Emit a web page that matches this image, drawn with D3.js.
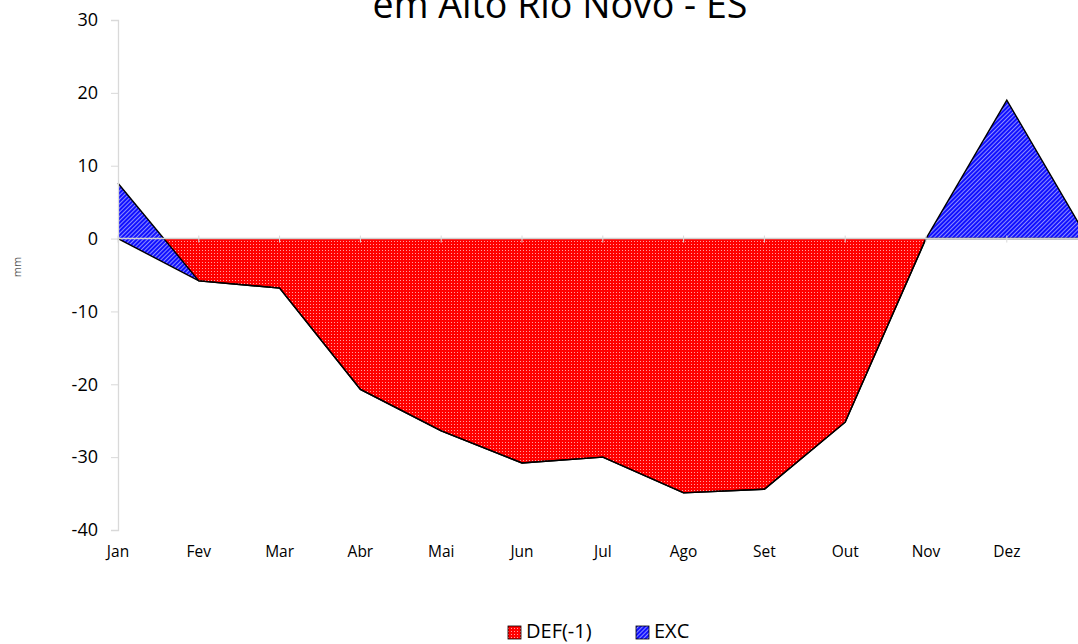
<!DOCTYPE html>
<html>
<head>
<meta charset="utf-8">
<script src="https://cdn.jsdelivr.net/npm/d3@7"></script>
<style>
  body { margin: 0; background: #fff; }
  svg { display: block; font-family: "Open Sans", sans-serif; }
</style>
</head>
<body>
<div class="content"></div>
<script>
// categorias (o último ponto é o início do ciclo seguinte, fora do quadro)
var months = ['Jan', 'Fev', 'Mar', 'Abr', 'Mai', 'Jun', 'Jul', 'Ago', 'Set', 'Out', 'Nov', 'Dez', ''];

// deficiência hídrica (x -1), mm
var def = [0, -5.8, -6.8, -20.7, -26.4, -30.8, -30.0, -34.9, -34.4, -25.2, 0, 0, 0];

// excedente hídrico, mm
var exc = [7.6, 0, 0, 0, 0, 0, 0, 0, 0, 0, 0, 19.0, 0];

var yTicks = [-40, -30, -20, -10, 0, 10, 20, 30];

var title = 'em Alto Rio Novo - ES';
var legendNames = ['DEF(-1)', 'EXC'];

// dimensões
var w = 1078,
    h = 644;

var svg = d3.select('.content').append('svg')
    .attr('width', w)
    .attr('height', h);

// padrões de preenchimento
var defs = svg.append('defs');

var pRed = defs.append('pattern')
    .attr('id', 'pat-def')
    .attr('patternUnits', 'userSpaceOnUse')
    .attr('width', 3).attr('height', 3);
pRed.append('rect').attr('width', 3).attr('height', 3).attr('fill', '#ff0000');
pRed.append('rect').attr('x', 1).attr('y', 1).attr('width', 1).attr('height', 1).attr('fill', '#ffa0a0');

var pBlue = defs.append('pattern')
    .attr('id', 'pat-exc')
    .attr('patternUnits', 'userSpaceOnUse')
    .attr('width', 3).attr('height', 3)
    .attr('patternTransform', 'rotate(45)');
pBlue.append('rect').attr('width', 3).attr('height', 3).attr('fill', '#1010ff');
pBlue.append('rect').attr('width', 1).attr('height', 3).attr('fill', '#8c8cff');

// escalas
var x = d3.scalePoint()
    .domain(d3.range(months.length))
    .range([118, 118 + 80.8 * (months.length - 1)]);

var y = d3.scaleLinear()
    .domain([-40, 30])
    .range([530, 20]);

// dados empilhados como no Excel (EXC acima de DEF)
var data = months.map(function(m, i) {
    return { i: i, def: def[i], top: def[i] + exc[i] };
});

var plot = svg.append('g');

// área DEF: de 0 até DEF
plot.append('path')
    .datum(data)
    .attr('fill', 'url(#pat-def)')
    .attr('d', d3.area()
        .x(function(d) { return x(d.i); })
        .y0(y(0))
        .y1(function(d) { return y(d.def); }));

// área EXC: de DEF até DEF+EXC
plot.append('path')
    .datum(data)
    .attr('fill', 'url(#pat-exc)')
    .attr('d', d3.area()
        .x(function(d) { return x(d.i); })
        .y0(function(d) { return y(d.def); })
        .y1(function(d) { return y(d.top); }));

// contornos
var lineDef = d3.line().x(function(d) { return x(d.i); }).y(function(d) { return y(d.def); });
var lineTop = d3.line().x(function(d) { return x(d.i); }).y(function(d) { return y(d.top); });

plot.append('path').datum(data).attr('d', lineDef)
    .attr('fill', 'none').attr('stroke', '#000').attr('stroke-width', 1.4);
plot.append('path').datum(data).attr('d', lineTop)
    .attr('fill', 'none').attr('stroke', '#000').attr('stroke-width', 1.4);

// eixo y
var yAxis = svg.append('g')
    .attr('transform', 'translate(' + x(0) + ',0)')
    .call(d3.axisLeft(y).tickValues(yTicks).tickSize(7).tickPadding(13)
        .tickFormat(function(d) { return String(d); }));
yAxis.select('.domain').attr('stroke', '#d9d9d9').attr('stroke-width', 1.3);
yAxis.selectAll('.tick line').attr('stroke', '#d9d9d9');
yAxis.selectAll('.tick text')
    .attr('fill', '#000')
    .style('font-size', '18px')
    .style('font-family', '"Open Sans", sans-serif');

// eixo x na linha do zero
var xAxisLine = svg.append('g');
xAxisLine.append('line')
    .attr('x1', x(0)).attr('x2', w)
    .attr('y1', y(0)).attr('y2', y(0))
    .attr('stroke', '#d0d0d0').attr('stroke-width', 1.5);
xAxisLine.selectAll('line.tick')
    .data(d3.range(months.length))
    .enter()
    .append('line')
    .attr('class', 'tick')
    .attr('x1', function(d) { return x(d); }).attr('x2', function(d) { return x(d); })
    .attr('y1', y(0) - 3).attr('y2', y(0) + 4)
    .attr('stroke', '#d9d9d9').attr('stroke-width', 1);

// rótulos do eixo x (posição baixa)
svg.append('g').selectAll('text')
    .data(months.filter(function(m) { return m !== ''; }))
    .enter()
    .append('text')
    .attr('x', function(d, i) { return x(i); })
    .attr('y', 557)
    .attr('text-anchor', 'middle')
    .style('font-size', '15.5px')
    .text(function(d) { return d; });

// título (cortado no topo, como no original)
var t = svg.append('text')
    .attr('x', 560)
    .attr('y', 18)
    .attr('text-anchor', 'middle')
    .style('font-size', '34px')
    .attr('fill', '#000')
    .text(title);
var tw = t.node().getComputedTextLength();
t.style('font-size', (34 * 375 / tw) + 'px');

// rótulo do eixo y
svg.append('text')
    .attr('transform', 'translate(21,267) rotate(-90)')
    .attr('text-anchor', 'middle')
    .style('font-size', '11px')
    .attr('fill', '#595959')
    .text('mm');

// legenda
var legend = svg.append('g');
var legX = [508, 636];
legendNames.forEach(function(name, i) {
    legend.append('rect')
        .attr('x', legX[i]).attr('y', 626)
        .attr('width', 13).attr('height', 13)
        .attr('fill', i === 0 ? 'url(#pat-def)' : 'url(#pat-exc)')
        .attr('stroke', '#000').attr('stroke-width', 0.8);
    legend.append('text')
        .attr('x', legX[i] + 18)
        .attr('y', 638)
        .style('font-size', '20px')
        .text(name);
});
</script>
</body>
</html>
